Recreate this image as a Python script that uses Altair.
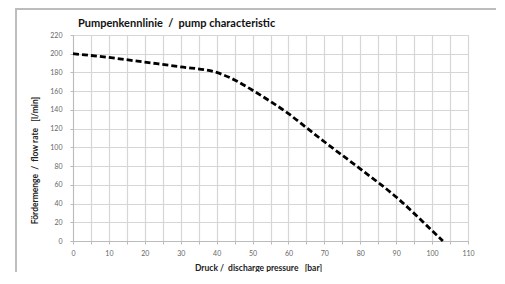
import altair as alt
import pandas as pd

pressure = [0, 10, 20, 30, 40, 45, 50, 55, 60, 65, 70, 80, 90, 100, 103]
flow = [200, 196, 191, 186, 180, 172, 161, 149, 136, 121, 106, 77, 47, 11, 0]
x_ticks = list(range(0, 111, 5))
y_ticks = list(range(0, 221, 20))

NB = "\u00a0"
title_text = f"Pumpenkennlinie{NB}{NB}/{NB}{NB}pump characteristic"
x_title = f"Druck /{NB}{NB}discharge pressure{NB}{NB}{NB}[bar]"
y_title = f"Fördermenge{NB}{NB}/{NB}{NB}flow rate{NB}{NB}{NB}[l/min]"

df = pd.DataFrame({"p": pressure, "q": flow})

FONT = "Lato"
W, H = 395, 206

line = alt.Chart(df).mark_line(
    color="black", strokeWidth=2.8, strokeDash=[6, 3], interpolate="monotone"
).encode(
    x=alt.X("p:Q", scale=alt.Scale(domain=[0, 110], nice=False),
            axis=alt.Axis(values=x_ticks,
                          labelExpr="datum.value % 10 == 0 ? datum.label : ''",
                          title=x_title,
                          titleFont=FONT, titleFontSize=8.5, titleFontWeight="bold",
                          titleColor="#222222", titleX=185, titleY=26,
                          titleBaseline="middle",
                          labelFont=FONT, labelFontSize=7, labelColor="#666666",
                          labelPadding=5, tickSize=3, tickColor="#bbbbbb",
                          domainColor="#bbbbbb", gridColor="#d6d6d6",
                          gridWidth=1.2, labelFlush=False)),
    y=alt.Y("q:Q", scale=alt.Scale(domain=[0, 220], nice=False),
            axis=alt.Axis(values=y_ticks,
                          title=y_title,
                          titleFont=FONT, titleFontSize=8.5, titleFontWeight="bold",
                          titleColor="#222222", titleAngle=270, titleX=-39,
                          titleY=125, titleBaseline="middle", titleAlign="center",
                          labelFont=FONT, labelFontSize=7, labelColor="#666666",
                          labelPadding=8, tickSize=3, tickColor="#bbbbbb",
                          domainColor="#bbbbbb", gridColor="#d6d6d6",
                          gridWidth=1.2)),
)

border = alt.Chart(df).mark_rect(
    fill=None, stroke="#bdbdbd", strokeWidth=1.5, clip=False
).encode(
    x=alt.value(-57), x2=alt.value(426), y=alt.value(-26.5), y2=alt.value(300)
)

chart = alt.layer(border, line).properties(
    width=W, height=H,
    title=alt.TitleParams(
        title_text,
        anchor="start", frame="group", font=FONT, fontSize=11,
        fontWeight="bold", color="#111111", dx=5, offset=0, dy=21),
    autosize="none",
    padding={"left": 65, "top": 27, "right": 28, "bottom": 31},
).configure_view(stroke=None).configure(background="white")

chart.save("out.html", embed_options={"renderer": "svg", "actions": False})
